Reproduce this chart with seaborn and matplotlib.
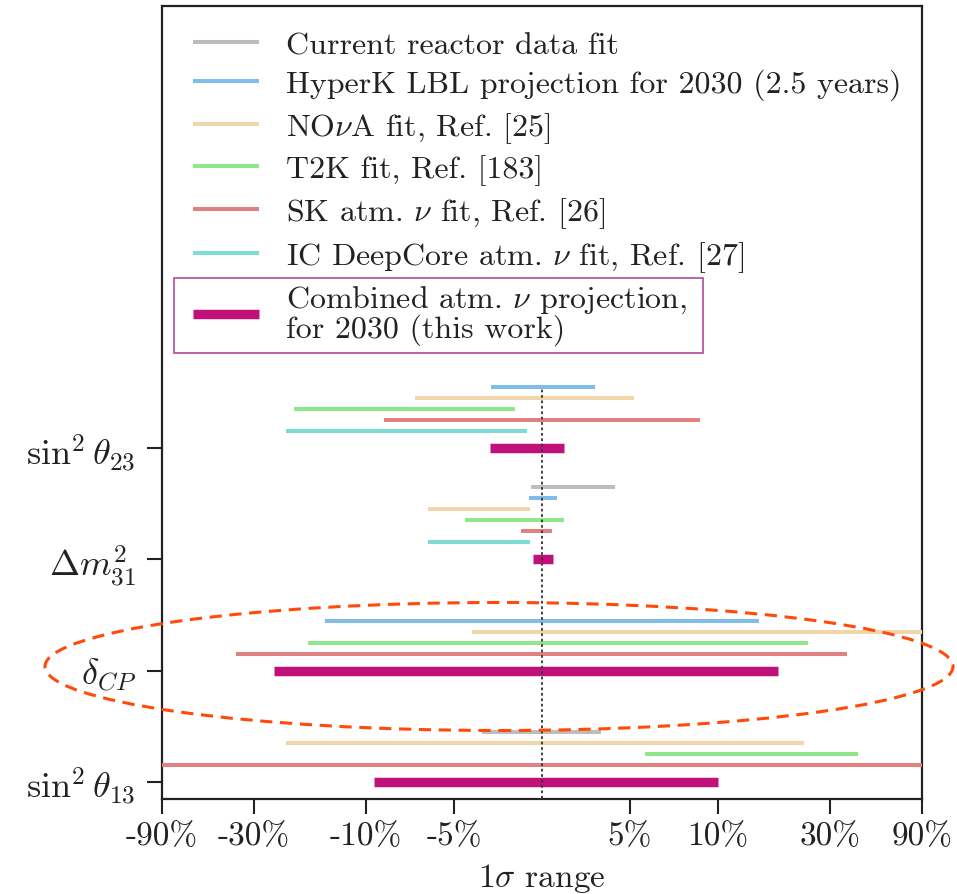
import numpy as np
import pandas as pd
import matplotlib
matplotlib.use("Agg")
import matplotlib.pyplot as plt
import seaborn as sns
from matplotlib.lines import Line2D
from matplotlib.patches import Ellipse, Rectangle

# ---------------- data ----------------
params = [r"$\sin^2\theta_{23}$", r"$\Delta m^2_{31}$", r"$\delta_{CP}$", r"$\sin^2\theta_{13}$"]
param_pos = [3, 2, 1, 0]

labels = [
    "Current reactor data fit",
    "HyperK LBL projection for 2030 (2.5 years)",
    r"NO$\nu$A fit, Ref. [25]",
    "T2K fit, Ref. [183]",
    r"SK atm. $\nu$ fit, Ref. [26]",
    r"IC DeepCore atm. $\nu$ fit, Ref. [27]",
    "Combined atm. $\\nu$ projection,\nfor 2030 (this work)",
]

# 1 sigma ranges in percent: (low, high) per parameter, None = not shown
reactor_lo = [None, -0.64, None, -3.39]
reactor_hi = [None, 4.13, None, 3.38]
hyperk_lo = [-2.9, -0.76, -17.4, None]
hyperk_hi = [3.0, 0.83, 17.4, None]
nova_lo = [-7.2, -6.48, -3.96, -24.3]
nova_hi = [5.2, -0.70, 100.0, 25.3]
t2k_lo = [-22.9, -4.38, -20.4, 5.83]
t2k_hi = [-1.53, 1.27, 26.0, 48.3]
sk_lo = [-9.0, -1.18, -41.9, -100.0]
sk_hi = [9.0, 0.55, 41.0, 100.0]
ic_lo = [-24.3, -6.48, None, None]
ic_hi = [-0.87, -0.66, None, None]
comb_lo = [-2.95, -0.49, -26.4, -9.55]
comb_hi = [1.25, 0.61, 20.7, 10.0]

tick_vals = [-90, -30, -10, -5, 5, 10, 30, 90]
tick_labels = ["-90%", "-30%", "-10%", "-5%", "5%", "10%", "30%", "90%"]

colors = ["#bdbdbd", "#80bde8", "#f1d6ab", "#8ee88a", "#e08080", "#7fdcd4", "#c0107a"]
ranges = [(reactor_lo, reactor_hi), (hyperk_lo, hyperk_hi), (nova_lo, nova_hi),
          (t2k_lo, t2k_hi), (sk_lo, sk_hi), (ic_lo, ic_hi), (comb_lo, comb_hi)]
widths = [2.9, 2.9, 2.9, 2.9, 2.9, 2.9, 6.8]

# ---------------- style ----------------
sns.set_theme(style="ticks")
plt.rcParams["font.family"] = ["cmr10", "DejaVu Serif"]
plt.rcParams["mathtext.fontset"] = "cm"
plt.rcParams["axes.formatter.use_mathtext"] = True
plt.rcParams["axes.unicode_minus"] = False

fig = plt.figure(figsize=(9.57, 8.95), dpi=100)
ax = fig.add_axes([162 / 957, 1 - 800 / 895, 760 / 957, 793 / 895])

# custom symmetric axis scale (piecewise)
_v = np.array([-1000, -90, -30, -10, 10, 30, 90, 1000], dtype=float)
_p = np.array([-1775, -380, -288, -176, 176, 288, 380, 1775], dtype=float)


def fwd(x):
    return np.interp(x, _v, _p)


def inv(y):
    return np.interp(y, _p, _v)


ax.set_xscale("function", functions=(fwd, inv))

# stacking of the thin bars above each parameter (packed from the bottom)
base_off, step_off = 0.153, 0.099
offsets = [[None] * len(params) for _ in ranges]
for k in range(len(params)):
    present = [i for i in range(len(ranges) - 1) if ranges[i][0][k] is not None]
    n = len(present)
    for j, i in enumerate(present):
        offsets[i][k] = base_off + step_off * (n - 1 - j)
    offsets[-1][k] = 0.0

for i, ((lo, hi), col, lw) in enumerate(zip(ranges, colors, widths)):
    rows = []
    for k, (a, b) in enumerate(zip(lo, hi)):
        if a is None:
            continue
        y = param_pos[k] + offsets[i][k]
        rows.append({"x": a, "y": y, "seg": k})
        rows.append({"x": b, "y": y, "seg": k})
    df = pd.DataFrame(rows)
    sns.lineplot(data=df, x="x", y="y", units="seg", estimator=None, color=col,
                 lw=lw, solid_capstyle="butt", ax=ax, legend=False, zorder=3)

ax.plot([0, 0], [-0.2, 3 + 0.549], ls=(0, (1.5, 1.5)), color="#333333", lw=1.3, zorder=4)

ax.set_xlim(-90, 90)
ax.set_ylim(-0.156, 6.982)
ax.set_xticks(tick_vals)
ax.set_xticklabels(tick_labels)
ax.set_yticks(param_pos)
ax.set_yticklabels(params)
ax.tick_params(axis="x", labelsize=24, length=11, width=1.5, pad=5, direction="out", color="#222222",
               labelcolor="#222222")
ax.tick_params(axis="y", labelsize=26, length=11, width=1.5, pad=8, direction="out", color="#222222",
               labelcolor="#222222")
ax.minorticks_off()
for s in ax.spines.values():
    s.set_linewidth(1.6)
    s.set_color("#222222")
ax.set_xlabel(r"1$\sigma$ range", fontsize=24, labelpad=8, color="#222222")
ax.set_ylabel("")

handles = [Line2D([0], [0], color=c, lw=lw, solid_capstyle="butt") for c, lw in zip(colors, widths)]
leg = ax.legend(handles, labels, loc="upper left", bbox_to_anchor=(193 / 957, 1 - 32 / 895),
                bbox_transform=fig.transFigure, frameon=False, fontsize=23,
                handlelength=2.07, handletextpad=0.84, labelspacing=0.30,
                borderpad=0, borderaxespad=0)
for t in leg.get_texts():
    t.set_color("#222222")
    t.set_linespacing(0.95)

fig.patches.append(Rectangle((174 / 957, 1 - 354 / 895), (703 - 174) / 957, 75 / 895,
                             transform=fig.transFigure, fill=False, edgecolor="#b04a9a", lw=1.2))

fig.patches.append(Ellipse((499 / 957, 1 - 667.5 / 895), 908 / 957, 128 / 895,
                           transform=fig.transFigure, fill=False, edgecolor="#ff4a0a",
                           lw=2.2, ls=(0, (4, 2.5))))

fig.savefig("out.png", dpi=100)
